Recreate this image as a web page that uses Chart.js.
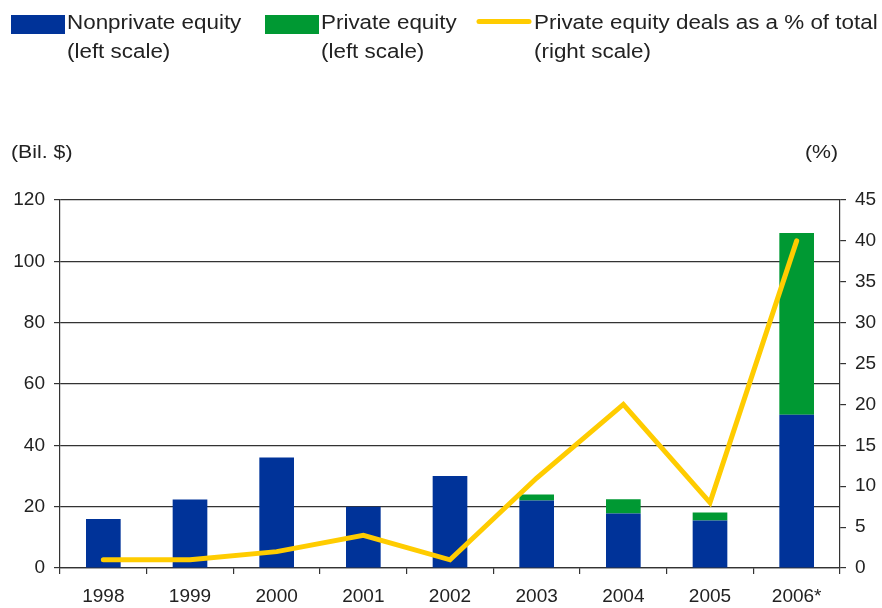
<!DOCTYPE html>
<html>
<head>
<meta charset="utf-8">
<script src="https://cdn.jsdelivr.net/npm/chart.js@4"></script>
<style>
  html, body { margin: 0; padding: 0; background: #fff; }
  #wrap { width: 882px; height: 608px; position: relative; }
</style>
</head>
<body>
<div id="wrap"><canvas id="dealsChart"></canvas></div>
<script>
// ---- data ----
const years = ['1998', '1999', '2000', '2001', '2002', '2003', '2004', '2005', '2006*'];
const nonprivateEquity = [16, 22.3, 36, 20, 30, 22, 17.8, 15.5, 50];   // Bil. $
const privateEquity    = [0, 0, 0, 0, 0, 2, 4.6, 2.6, 59.2];           // Bil. $
const privateSharePct  = [1, 1, 2, 4, 1, 11, 20, 8, 40];               // % of total

const leftTicks = { min: 0, max: 120, step: 20 };
const rightTicks = { min: 0, max: 45, step: 5 };

const BLUE = '#003399';
const GREEN = '#009933';
const YELLOW = '#ffcc00';
const AXIS = '#333';
const TEXT = '#222';
const FONT = '"Liberation Sans", Arial, sans-serif';

// draws text slightly stretched sideways, like the legend lettering
function wideText(c, str, x, y, sx) {
  c.save();
  c.translate(x, y);
  c.scale(sx, 1);
  c.fillText(str, 0, 0);
  c.restore();
}

// Legend block and axis unit labels drawn at the top of the canvas
const headerText = {
  id: 'headerText',
  afterDraw(chart) {
    const c = chart.ctx;
    c.save();
    c.font = '20px ' + FONT;
    c.fillStyle = TEXT;
    c.textBaseline = 'alphabetic';
    c.textAlign = 'left';

    const items = [
      { kind: 'box', color: BLUE,   x: 10,  lines: ['Nonprivate equity', '(left scale)'] },
      { kind: 'box', color: GREEN,  x: 264, lines: ['Private equity', '(left scale)'] },
      { kind: 'line', color: YELLOW, x: 477, lines: ['Private equity deals as a % of total', '(right scale)'] }
    ];
    items.forEach(it => {
      if (it.kind === 'box') {
        c.fillStyle = it.color;
        c.fillRect(it.x + 1, 15, 54, 19);
      } else {
        c.strokeStyle = it.color;
        c.lineWidth = 5;
        c.lineCap = 'round';
        c.beginPath();
        c.moveTo(it.x + 2, 21.5);
        c.lineTo(it.x + 52, 21.5);
        c.stroke();
      }
      c.fillStyle = TEXT;
      wideText(c, it.lines[0], it.x + 57, 29, 1.12);
      wideText(c, it.lines[1], it.x + 57, 58, 1.12);
    });

    c.font = '19px ' + FONT;
    wideText(c, '(Bil. $)', 11, 158, 1.12);
    const w = c.measureText('(%)').width * 1.12;
    wideText(c, '(%)', 838 - w, 158, 1.12);
    c.restore();
  }
};

new Chart(document.getElementById('dealsChart').getContext('2d'), {
  data: {
    labels: years,
    datasets: [
      {
        type: 'line',
        label: 'Private equity deals as a % of total',
        data: privateSharePct,
        yAxisID: 'y1',
        borderColor: YELLOW,
        borderWidth: 5,
        borderCapStyle: 'round',
        borderJoinStyle: 'miter',
        pointRadius: 0,
        tension: 0,
        order: 1
      },
      {
        type: 'bar',
        label: 'Nonprivate equity',
        data: nonprivateEquity,
        yAxisID: 'y',
        backgroundColor: BLUE,
        barPercentage: 0.4,
        categoryPercentage: 1,
        order: 2
      },
      {
        type: 'bar',
        label: 'Private equity',
        data: privateEquity,
        yAxisID: 'y',
        backgroundColor: GREEN,
        barPercentage: 0.4,
        categoryPercentage: 1,
        order: 2
      }
    ]
  },
  options: {
    responsive: true,
    maintainAspectRatio: false,
    animation: false,
    layout: { padding: { top: 200, left: 0, right: 0, bottom: 0 } },
    plugins: {
      legend: { display: false },
      tooltip: { enabled: false }
    },
    scales: {
      x: {
        stacked: true,
        grid: { offset: true, drawOnChartArea: false, drawTicks: true, tickLength: 6, color: AXIS, lineWidth: 1.2 },
        border: { display: true, color: AXIS, width: 1.2 },
        ticks: { color: TEXT, font: { family: FONT, size: 19 }, padding: 11, maxRotation: 0 },
        afterFit(s) { s.height = 40; }
      },
      y: {
        position: 'left',
        stacked: true,
        min: leftTicks.min,
        max: leftTicks.max,
        grid: { color: AXIS, lineWidth: 1.2, drawTicks: true, tickLength: 6 },
        border: { display: true, color: AXIS, width: 1.2 },
        ticks: { stepSize: leftTicks.step, color: TEXT, font: { family: FONT, size: 19 }, padding: 9 },
        afterFit(s) { s.width = 60; }
      },
      y1: {
        position: 'right',
        min: rightTicks.min,
        max: rightTicks.max,
        grid: { drawOnChartArea: false, drawTicks: true, tickLength: 6, color: AXIS, lineWidth: 1.2 },
        border: { display: true, color: AXIS, width: 1.2 },
        ticks: { stepSize: rightTicks.step, color: TEXT, font: { family: FONT, size: 19 }, padding: 9 },
        afterFit(s) { s.width = 42; }
      }
    }
  },
  plugins: [headerText]
});
</script>
</body>
</html>
